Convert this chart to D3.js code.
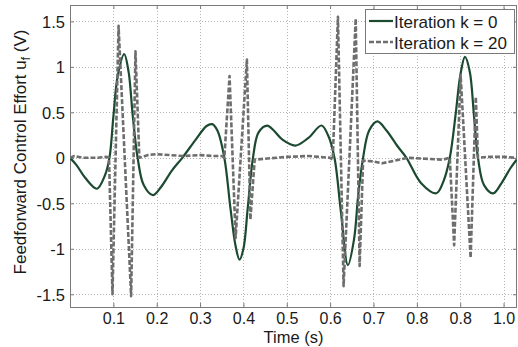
<!DOCTYPE html>
<html>
<head>
<meta charset="utf-8">
<script src="https://cdn.jsdelivr.net/npm/d3@7"></script>
<style>
  html, body { margin: 0; padding: 0; background: #fff; }
  svg { display: block; font-family: "Liberation Sans", Arial, sans-serif; }
</style>
</head>
<body>
<svg id="chart" width="518" height="347"></svg>
<script>
// iteration k = 0 : [time (s), effort (V)]
const iter0 = [
  [0, 0], [0.015, -0.08], [0.035, -0.22], [0.062, -0.34], [0.08, -0.2], [0.091, 0],
  [0.1, 0.45], [0.11, 0.9], [0.125, 1.14], [0.135, 0.95], [0.145, 0.45], [0.156, 0],
  [0.17, -0.3], [0.191, -0.41], [0.21, -0.32], [0.235, -0.14], [0.259, 0], [0.29, 0.2],
  [0.315, 0.35], [0.328, 0.37], [0.34, 0.3], [0.356, 0], [0.37, -0.55], [0.382, -0.97],
  [0.391, -1.12], [0.40, -1.0], [0.41, -0.55], [0.422, 0], [0.435, 0.28], [0.455, 0.355],
  [0.47, 0.3], [0.49, 0.2], [0.52, 0.135], [0.55, 0.22], [0.58, 0.355], [0.595, 0.25],
  [0.61, 0], [0.625, -0.6], [0.641, -1.18], [0.655, -0.9], [0.665, -0.4], [0.676, 0],
  [0.69, 0.3], [0.709, 0.4], [0.73, 0.3], [0.755, 0.13], [0.776, 0], [0.81, -0.28],
  [0.845, -0.39], [0.862, -0.25], [0.876, 0], [0.89, 0.5], [0.9, 0.9], [0.911, 1.11],
  [0.922, 0.95], [0.932, 0.45], [0.941, 0], [0.955, -0.3], [0.976, -0.39], [0.995, -0.28],
  [1.015, -0.12], [1.03, -0.02]
];

// iteration k = 20
const iter20 = [
  [0, 0], [0.01, 0.02], [0.03, 0], [0.06, 0], [0.085, 0.01], [0.09, 0],
  [0.098, -1.5], [0.112, 1.45], [0.141, -1.52], [0.151, 1.17], [0.16, 0],
  [0.18, 0.03], [0.2, 0.04], [0.23, 0.03], [0.26, 0.02], [0.3, 0.03], [0.33, 0.02],
  [0.35, 0.02], [0.356, 0], [0.368, 0.9], [0.382, -0.88], [0.408, 1.08], [0.416, -0.68],
  [0.426, -0.02], [0.45, -0.01], [0.5, 0.01], [0.55, 0.02], [0.6, 0], [0.606, -0.02],
  [0.618, 1.55], [0.631, -1.41], [0.659, 1.53], [0.668, -1.19], [0.676, -0.03],
  [0.7, -0.04], [0.72, -0.06], [0.75, -0.03], [0.78, 0], [0.82, -0.01], [0.86, -0.02],
  [0.876, 0], [0.886, -0.96], [0.901, 0.91], [0.924, -1.1], [0.936, 0.67], [0.941, 0],
  [0.96, 0.01], [1, 0.01], [1.03, 0]
];

const xTicks = [0.1, 0.2, 0.3, 0.4, 0.5, 0.6, 0.7, 0.8, 0.9, 1.0];
const xTickLabels = ['0.1', '0.2', '0.3', '0.4', '0.5', '0.6', '0.7', '0.8', '0.8', '1.0'];
const yTicks = [-1.5, -1, -0.5, 0, 0.5, 1, 1.5];
const yTickLabels = ['-1.5', '-1', '-0.5', '0', '0.5', '1', '1.5'];
const legendLabels = ['Iteration k = 0', 'Iteration k = 20'];

const svg = d3.select('#chart');
const box = { left: 70, right: 517, top: 5, bottom: 307 };

const x = d3.scaleLinear().domain([0, 1.031]).range([box.left, box.right]);
const y = d3.scaleLinear().domain([-1.64, 1.68]).range([box.bottom, box.top]);

// grid
const grid = svg.append('g')
  .attr('stroke', '#b4b4b4')
  .attr('stroke-width', 1)
  .attr('stroke-dasharray', '1,2');
grid.selectAll('.gx').data(xTicks).enter().append('line')
  .attr('x1', d => Math.round(x(d)) + 0.5).attr('x2', d => Math.round(x(d)) + 0.5)
  .attr('y1', box.top).attr('y2', box.bottom);
grid.selectAll('.gy').data(yTicks).enter().append('line')
  .attr('y1', d => Math.round(y(d)) + 0.5).attr('y2', d => Math.round(y(d)) + 0.5)
  .attr('x1', box.left).attr('x2', box.right);

// axes (ticks inward, labels drawn separately)
const xAxis = svg.append('g')
  .attr('transform', `translate(0,${box.bottom})`)
  .call(d3.axisBottom(x).tickValues(xTicks).tickSizeInner(-4).tickSizeOuter(0)
    .tickFormat((d, i) => xTickLabels[i]));
const xAxisTop = svg.append('g')
  .attr('transform', `translate(0,${box.top})`)
  .call(d3.axisTop(x).tickValues(xTicks).tickSizeInner(-4).tickSizeOuter(0).tickFormat(''));
const yAxis = svg.append('g')
  .attr('transform', `translate(${box.left},0)`)
  .call(d3.axisLeft(y).tickValues(yTicks).tickSizeInner(-4).tickSizeOuter(0)
    .tickFormat((d, i) => yTickLabels[i]));
const yAxisRight = svg.append('g')
  .attr('transform', `translate(${box.right},0)`)
  .call(d3.axisRight(y).tickValues(yTicks).tickSizeInner(-4).tickSizeOuter(0).tickFormat(''));

[xAxis, xAxisTop, yAxis, yAxisRight].forEach(a => {
  a.select('.domain').remove();
  a.selectAll('.tick line').attr('stroke', '#7a7a7a');
});
xAxis.selectAll('.tick text')
  .attr('font-size', 16).attr('fill', '#1a1a1a').attr('font-family', null).attr('dy', null).attr('y', 17);
yAxis.selectAll('.tick text')
  .attr('font-size', 16.5).attr('fill', '#1a1a1a').attr('font-family', null).attr('x', -5).attr('dy', '0.35em');

// frame
svg.append('rect')
  .attr('x', box.left + 0.5).attr('y', box.top + 0.5)
  .attr('width', box.right - box.left - 1).attr('height', box.bottom - box.top)
  .attr('fill', 'none').attr('stroke', '#7a7a7a').attr('stroke-width', 1);

// series
const plot = svg.append('g');
plot.append('clipPath').attr('id', 'clip').append('rect')
  .attr('x', box.left).attr('y', box.top).attr('width', box.right - box.left).attr('height', box.bottom - box.top);

const lineSmooth = d3.line().x(d => x(d[0])).y(d => y(d[1])).curve(d3.curveCatmullRom.alpha(0.5));
const lineSharp = d3.line().x(d => x(d[0])).y(d => y(d[1]));

plot.append('path').datum(iter0)
  .attr('clip-path', 'url(#clip)')
  .attr('d', lineSmooth)
  .attr('fill', 'none').attr('stroke', '#1c4a31').attr('stroke-width', 2.2);

plot.append('path').datum(iter20)
  .attr('clip-path', 'url(#clip)')
  .attr('d', lineSharp)
  .attr('fill', 'none').attr('stroke', '#6e6e6e').attr('stroke-width', 2.6)
  .attr('stroke-dasharray', '5,2').attr('stroke-linejoin', 'round');

// legend
const legend = svg.append('g');
legend.append('rect')
  .attr('x', 365.5).attr('y', 9.5).attr('width', 149).attr('height', 44)
  .attr('fill', '#fff').attr('stroke', '#7a7a7a');
const styles = [
  { stroke: '#1c4a31', width: 2.2, dash: null },
  { stroke: '#6e6e6e', width: 2.6, dash: '5,2' }
];
legendLabels.forEach((label, i) => {
  const cy = 21 + i * 21;
  legend.append('line')
    .attr('x1', 369).attr('x2', 393).attr('y1', cy).attr('y2', cy)
    .attr('stroke', styles[i].stroke).attr('stroke-width', styles[i].width)
    .attr('stroke-dasharray', styles[i].dash);
  legend.append('text')
    .attr('x', 394).attr('y', cy + 6.5)
    .attr('font-size', 17).attr('fill', '#1a1a1a')
    .text(label);
});

// axis titles
svg.append('text')
  .attr('x', (box.left + box.right) / 2).attr('y', 343)
  .attr('text-anchor', 'middle').attr('font-size', 16.5).attr('fill', '#1a1a1a')
  .text('Time (s)');

const yTitle = svg.append('text')
  .attr('transform', 'translate(26,152) rotate(-90)')
  .attr('text-anchor', 'middle').attr('font-size', 17).attr('fill', '#1a1a1a');
yTitle.append('tspan').text('Feedforward Control Effort u');
yTitle.append('tspan').attr('font-size', 12).attr('dy', 4).text('f');
yTitle.append('tspan').attr('dy', -4).text(' (V)');
</script>
</body>
</html>
